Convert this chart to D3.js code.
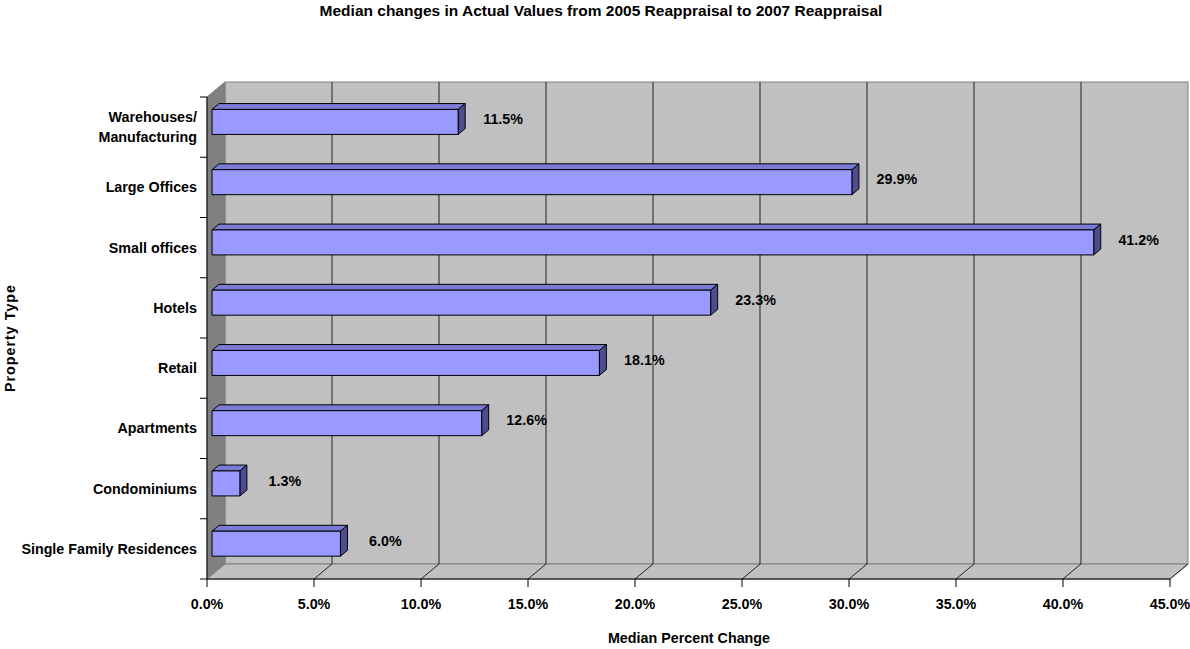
<!DOCTYPE html>
<meta charset="utf-8">
<html>
<head>
<script src="https://d3js.org/d3.v7.min.js"></script>
<style>
  body { margin: 0; background: #fff; }
  text { font-family: "Liberation Sans", Arial, sans-serif; font-weight: bold; fill: #000; }
</style>
</head>
<body>
<div id="viz"></div>
<script>
// data, top of chart first
const categories = ["Warehouses/\nManufacturing", "Large Offices", "Small offices", "Hotels",
                    "Retail", "Apartments", "Condominiums", "Single Family Residences"];
const values = [11.5, 29.9, 41.2, 23.3, 18.1, 12.6, 1.3, 6.0];
const xTicks = [0, 5, 10, 15, 20, 25, 30, 35, 40, 45];

const w = 1190, h = 649;
const plotL = 207, plotR = 1170, plotT = 97, plotB = 579;
const depthX = 18, depthY = -15;
const barD0 = 0.28, barD1 = 0.67;
const fs = 14.3;

const svg = d3.select("#viz").append("svg")
    .attr("width", w).attr("height", h);

const x = d3.scaleLinear().domain([0, 45]).range([plotL, plotR]);
const y = d3.scaleBand().domain(categories).range([plotT, plotB]);

// shift a front-plane point back by depth d (0..1)
const proj = (px, py, d) => [px + depthX * d, py + depthY * d];
const poly = pts => pts.map(p => p.join(",")).join(" ");

// back wall
svg.append("rect")
    .attr("x", plotL + depthX).attr("y", plotT + depthY)
    .attr("width", plotR - plotL).attr("height", plotB - plotT)
    .attr("fill", "#c0c0c0").attr("stroke", "#808080");

// side wall
svg.append("polygon")
    .attr("points", poly([[plotL, plotT], proj(plotL, plotT, 1), proj(plotL, plotB, 1), [plotL, plotB]]))
    .attr("fill", "#808080").attr("stroke", "#808080");

// floor
svg.append("polygon")
    .attr("points", poly([[plotL, plotB], proj(plotL, plotB, 1), proj(plotR, plotB, 1), [plotR, plotB]]))
    .attr("fill", "#c0c0c0").attr("stroke", "#808080");

// gridlines on wall and floor
const grid = svg.append("g").attr("stroke", "#222").attr("stroke-width", 1);
xTicks.filter(t => t > 0 && t < 45).forEach(t => {
  const xb = x(t) + depthX;
  grid.append("line").attr("x1", xb).attr("x2", xb)
      .attr("y1", plotT + depthY).attr("y2", plotB + depthY);
});
xTicks.filter(t => t > 0).forEach(t => {
  const b = proj(x(t), plotB, 1);
  grid.append("line").attr("x1", x(t)).attr("y1", plotB)
      .attr("x2", b[0]).attr("y2", b[1]);
});

// axes
const axis = svg.append("g").attr("stroke", "#000").attr("stroke-width", 1);
axis.append("line").attr("x1", plotL).attr("x2", plotL).attr("y1", plotT).attr("y2", plotB);
axis.append("line").attr("x1", plotL).attr("x2", plotR).attr("y1", plotB).attr("y2", plotB);
xTicks.forEach(t => {
  axis.append("line").attr("x1", x(t)).attr("x2", x(t)).attr("y1", plotB).attr("y2", plotB + 8);
});
const bounds = categories.map(c => y(c)).concat([plotB]);
bounds.forEach(b => {
  axis.append("line").attr("x1", plotL - 7).attr("x2", plotL).attr("y1", b).attr("y2", b);
});

svg.selectAll(".xlab").data(xTicks).join("text")
    .attr("class", "xlab")
    .attr("x", d => x(d)).attr("y", plotB + 30)
    .attr("text-anchor", "middle").attr("font-size", fs)
    .text(d => d.toFixed(1) + "%");

// category labels
categories.forEach(c => {
  const lines = c.split("\n");
  const cy = y(c) + y.bandwidth() / 2;
  const t = svg.append("text")
      .attr("x", 197).attr("text-anchor", "end").attr("font-size", fs);
  lines.forEach((ln, i) => {
    t.append("tspan").attr("x", 197)
      .attr("y", cy + 5 + (i - (lines.length - 1) / 2) * 20)
      .text(ln);
  });
});

// bars
const barH = y.bandwidth() * 0.415;
const bars = svg.selectAll(".bar").data(categories.map((c, i) => ({c, v: values[i]})))
    .join("g").attr("class", "bar");

bars.each(function(d) {
  const g = d3.select(this);
  const cy = y(d.c) + y.bandwidth() / 2 - 1;
  const y0 = cy - barH / 2, y1 = cy + barH / 2;
  const x0 = x(0), x1 = x(d.v);
  g.append("polygon")
      .attr("points", poly([proj(x0, y0, barD0), proj(x1, y0, barD0), proj(x1, y0, barD1), proj(x0, y0, barD1)]))
      .attr("fill", "#7b7bd6").attr("stroke", "#000").attr("stroke-linejoin", "round");
  g.append("polygon")
      .attr("points", poly([proj(x1, y0, barD0), proj(x1, y0, barD1), proj(x1, y1, barD1), proj(x1, y1, barD0)]))
      .attr("fill", "#4d4d8e").attr("stroke", "#000").attr("stroke-linejoin", "round");
  g.append("polygon")
      .attr("points", poly([proj(x0, y0, barD0), proj(x1, y0, barD0), proj(x1, y1, barD0), proj(x0, y1, barD0)]))
      .attr("fill", "#9999ff").attr("stroke", "#000").attr("stroke-linejoin", "round");
  g.append("text")
      .attr("x", x1 + 50).attr("y", cy - 2)
      .attr("text-anchor", "middle").attr("font-size", fs)
      .text(d.v.toFixed(1) + "%");
});

// titles
svg.append("text")
    .attr("x", 601).attr("y", 16)
    .attr("text-anchor", "middle").attr("font-size", 15.5)
    .text("Median changes in Actual Values from 2005 Reappraisal to 2007 Reappraisal");

svg.append("text")
    .attr("x", 689).attr("y", 643)
    .attr("text-anchor", "middle").attr("font-size", fs)
    .text("Median Percent Change");

svg.append("text")
    .attr("transform", "translate(15,338) rotate(-90)")
    .attr("text-anchor", "middle").attr("font-size", fs)
    .attr("letter-spacing", 1)
    .text("Property Type");
</script>
</body>
</html>
